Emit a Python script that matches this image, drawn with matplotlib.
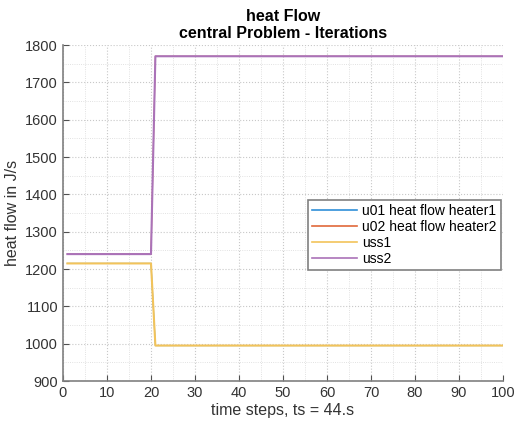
import matplotlib
matplotlib.use('Agg')
import matplotlib.pyplot as plt
from matplotlib.ticker import MultipleLocator

plt.rcParams['font.family'] = ['Liberation Sans', 'DejaVu Sans']

# data
steps = list(range(1, 101))
uss1 = [1215] * 20 + [995] * 80
uss2 = [1240] * 20 + [1770] * 80
u01 = uss1[:]
u02 = uss2[:]

fig = plt.figure(figsize=(5.15, 4.25), dpi=100)
ax = fig.add_axes([0.1223, 0.1035, 0.8544, 0.7905])

ax.plot(steps, u01, color='#2f8fd8', lw=0.8, label='u01 heat flow heater1')
ax.plot(steps, u02, color='#e0683a', lw=0.8, label='u02 heat flow heater2')
ax.plot(steps, uss1, color='#f2c35a', lw=1.5, label='uss1')
ax.plot(steps, uss2, color='#aa72b8', lw=1.5, label='uss2')

ax.set_xlim(0, 100)
ax.set_ylim(900, 1800)
ax.xaxis.set_major_locator(MultipleLocator(10))
ax.xaxis.set_minor_locator(MultipleLocator(5))
ax.yaxis.set_major_locator(MultipleLocator(100))
ax.yaxis.set_minor_locator(MultipleLocator(50))

ax.grid(which='major', color='#c8c8c8', linestyle=':', lw=0.8)
ax.grid(which='minor', color='#d8d8d8', linestyle=':', lw=0.6)
ax.set_axisbelow(True)

for s in ['top', 'right']:
    ax.spines[s].set_visible(False)
for s in ['left', 'bottom']:
    ax.spines[s].set_color('#808080')
    ax.spines[s].set_linewidth(1.2)
ax.tick_params(which='major', direction='in', length=4, color='#505050',
               labelsize=10.5, labelcolor='#333333')
ax.tick_params(which='minor', length=0)

ax.set_xlabel('time steps, ts = 44.s', fontsize=11.5, color='#333333', labelpad=2)
ax.set_ylabel('heat flow in J/s', fontsize=11.5, color='#333333', labelpad=4)
ax.set_title('heat Flow\ncentral Problem - Iterations', fontsize=11.5,
             fontweight='bold', pad=5, linespacing=1.2)

leg = ax.legend(loc='upper right', bbox_to_anchor=(0.995, 0.54), fontsize=10,
                fancybox=False, framealpha=1, edgecolor='#808080',
                borderpad=0.3, labelspacing=0.15, handlelength=3.2,
                handletextpad=0.4, borderaxespad=0)
leg.get_frame().set_linewidth(1.2)
for h in leg.get_lines():
    h.set_linewidth(1.2)

fig.savefig('out.png', dpi=100)
